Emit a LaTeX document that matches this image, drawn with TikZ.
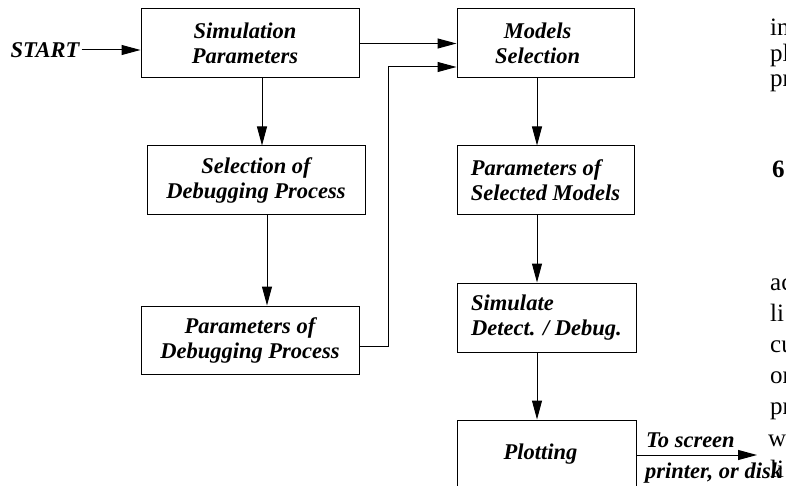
\documentclass[tikz,border=0pt]{standalone}
\usepackage{fontspec}
\setmainfont{Liberation Serif}
\usetikzlibrary{arrows.meta}
\begin{document}
\begin{tikzpicture}[x=1pt,y=-1pt,
  box/.style={draw, line width=1pt, inner sep=0pt, minimum height=69pt, align=center,
    font=\fontsize{22.5}{25}\selectfont\bfseries\itshape},
  lbl/.style={inner ysep=0pt, inner xsep=2pt, font=\fontsize{22.5}{25}\selectfont\bfseries\itshape},
  body/.style={inner sep=0pt, anchor=base west, font=\fontsize{25}{30}\selectfont},
  arr/.style={line width=1pt, -{Triangle[length=19pt,width=10pt]}}]
\useasboundingbox (0,0) rectangle (786,486);
\clip (0,0) rectangle (786,486);
% boxes
\node[box, minimum width=218pt] (sim) at (250,43.5) {Simulation\hspace*{10pt}\\Parameters\hspace*{10pt}};
\node[box, minimum width=177pt] (models) at (545.5,43.5) {Models\hspace*{16pt}\\Selection\hspace*{16pt}};
\node[box, minimum width=218pt] (sdp) at (256,180.5) {Selection of\\Debugging Process};
\node[box, minimum width=177pt, align=left] (psm) at (545.5,180.5) {Parameters of\\Selected Models};
\node[box, minimum width=218pt, minimum height=68pt] (pdb) at (250,340) {Parameters of\\Debugging Process};
\node[box, minimum width=179pt, align=left] (simu) at (546.5,317.5) {Simulate\\Detect. / Debug.};
\node[box, minimum width=179pt] (plot) at (546.5,454.5) {Plotting\hspace*{12pt}};
\node[lbl] (start) at (45,50) {START};
% helper coordinates
\coordinate (bx) at (388,346);
\coordinate (by) at (388,67);
\coordinate (xa) at (262,0);
\coordinate (xb) at (267,0);
\coordinate (xc) at (537,0);
\coordinate (out) at (757,455);
% connectors
\draw[arr] (start.east) -- (start.east -| sim.west);
\draw[arr] (sim.east) -- (sim.east -| models.west);
\draw[arr] (pdb.east |- bx) -- (bx) -- (by) -- (by -| models.west);
\draw[arr] (xa |- sim.south) -- (xa |- sdp.north);
\draw[arr] (xb |- sdp.south) -- (xb |- pdb.north);
\draw[arr] (xc |- models.south) -- (xc |- psm.north);
\draw[arr] (xc |- psm.south) -- (xc |- simu.north);
\draw[arr] (xc |- simu.south) -- (xc |- plot.north);
\draw[arr] (plot.east |- out) -- (out);
\node[lbl, inner xsep=0pt, anchor=base west] (ts) at (646,447) {To screen};
\node[lbl, inner xsep=0pt, anchor=base west] (pd) at (645,478) {printer, or disk};
% text of the neighbouring column
\node[body] (t1) at (770,36) {in};
\node[body] (t2) at (770,62) {pl};
\node[body] (t3) at (770,87) {pr};
\node[body, font=\fontsize{25}{30}\selectfont\bfseries] (t4) at (772,178) {6};
\node[body] (t5) at (770,290) {ac};
\node[body] (t6) at (770,321) {li};
\node[body] (t7) at (770,352) {cu};
\node[body] (t8) at (770,383) {or};
\node[body] (t9) at (770,414) {pr};
\node[body] (t10) at (768,446) {w};
\node[body] (t11) at (770,477) {li};
\end{tikzpicture}
\end{document}
